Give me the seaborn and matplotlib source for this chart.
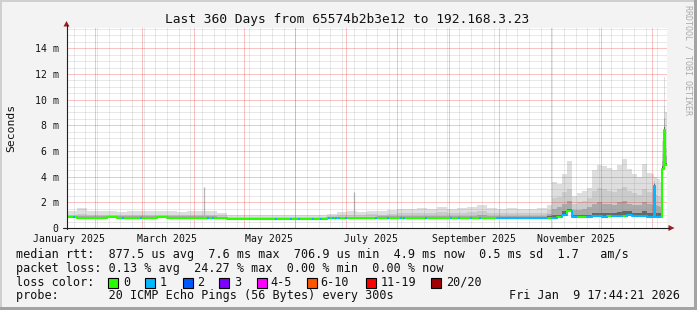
import numpy as np
import pandas as pd
import matplotlib
matplotlib.use("Agg")
import matplotlib.pyplot as plt
import matplotlib.dates as mdates
from matplotlib.patches import Rectangle, Polygon
import seaborn as sns

# ---------------- data ----------------
TITLE = "Last 360 Days from 65574b2b3e12 to 192.168.3.23"
END_TIME = "2026-01-09 17:44:21"
SPAN_DAYS = 360

# bin start, in days from the start of the 360 day window
bin_start_days = [0, 6, 12, 18, 24, 30, 36, 42, 48, 54, 60, 66, 72, 78, 84, 90,
                  96, 102, 108, 114, 120, 126, 132, 138, 144, 150,
                  156, 162, 168, 174, 180, 186, 192, 198, 204, 210, 216, 222, 228, 234,
                  240, 246, 252, 258, 264, 270, 276, 282,
                  288, 291, 294, 297, 300, 303, 306, 309, 312, 315, 318, 321, 324, 327,
                  330, 333, 336, 339, 342, 345, 348,
                  351, 352, 353, 354, 355, 356, 357, 358, 359]

# median rtt (ms)
median_ms = [0.82, 0.81, 0.80, 0.81, 0.82, 0.80, 0.81, 0.80, 0.81, 0.82, 0.80, 0.80, 0.81, 0.80, 0.80, 0.78,
             0.72, 0.71, 0.72, 0.72, 0.71, 0.70, 0.71, 0.71, 0.70, 0.71,
             0.76, 0.78, 0.78, 0.77, 0.77, 0.78, 0.77, 0.77, 0.78, 0.77, 0.77, 0.78, 0.77, 0.77,
             0.76, 0.77, 0.78, 0.77, 0.77, 0.76, 0.77, 0.77,
             0.78, 0.80, 0.85, 1.05, 1.30, 0.85, 0.82, 0.82, 0.84, 0.90, 0.90, 0.88, 0.90, 0.92,
             0.93, 0.94, 0.98, 0.92, 0.90, 0.90, 0.88,
             0.88, 3.30, 0.86, 0.85, 0.85, 0.88, 4.60, 7.60, 4.90]

# loss class per bin (index into loss colours)
loss_class = [0, 0, 0, 0, 0, 0, 0, 0, 0, 0, 0, 0, 0, 0, 0, 0,
              0, 0, 0, 0, 0, 0, 0, 0, 0, 0,
              0, 0, 0, 0, 0, 0, 0, 0, 0, 0, 0, 0, 0, 0,
              0, 0, 0, 1, 1, 1, 1, 1,
              0, 1, 0, 1, 0, 1, 0, 0, 1, 1, 1, 1, 0, 1,
              1, 0, 1, 1, 1, 1, 1,
              1, 1, 1, 1, 1, 0, 0, 0, 0]

# smoke: max ping, and upper edges of progressively darker bands (ms)
smoke_top = [1.35, 1.55, 1.30, 1.35, 1.30, 1.25, 1.35, 1.30, 1.30, 1.35, 1.30, 1.25, 1.35, 1.35, 1.30, 1.20,
             1.05, 1.05, 1.00, 1.05, 1.00, 1.00, 1.05, 1.00, 1.00, 1.05,
             1.10, 1.25, 1.30, 1.25, 1.35, 1.30, 1.40, 1.45, 1.50, 1.55, 1.50, 1.60, 1.50, 1.55,
             1.60, 1.80, 1.55, 1.50, 1.55, 1.50, 1.50, 1.55,
             1.80, 3.60, 3.40, 4.20, 5.20, 2.50, 2.70, 2.90, 3.10, 4.50, 4.90, 4.80, 4.70, 4.50,
             4.90, 5.40, 4.60, 4.20, 4.00, 5.00, 4.30,
             4.20, 4.00, 4.00, 3.80, 3.80, 3.60, 6.80, 11.80, 9.00]
smoke_upper = [1.05, 1.10, 1.05, 1.05, 1.05, 1.00, 1.05, 1.05, 1.05, 1.05, 1.05, 1.00, 1.05, 1.05, 1.05, 1.00,
               0.88, 0.88, 0.86, 0.88, 0.86, 0.86, 0.88, 0.86, 0.86, 0.88,
               0.92, 1.00, 1.05, 1.02, 1.08, 1.05, 1.10, 1.15, 1.18, 1.20, 1.18, 1.22, 1.18, 1.20,
               1.25, 1.30, 1.20, 1.18, 1.20, 1.18, 1.18, 1.20,
               1.40, 2.30, 2.40, 2.80, 3.00, 1.90, 2.00, 2.10, 2.30, 2.90, 3.10, 3.00, 2.90, 2.80,
               3.00, 3.20, 2.90, 2.70, 2.60, 3.00, 2.80,
               2.70, 3.70, 2.60, 2.50, 2.50, 2.40, 5.80, 9.50, 6.20]
smoke_inner = [0.92, 0.91, 0.90, 0.91, 0.92, 0.90, 0.91, 0.90, 0.91, 0.92, 0.90, 0.90, 0.91, 0.90, 0.90, 0.88,
               0.80, 0.79, 0.80, 0.80, 0.79, 0.78, 0.79, 0.79, 0.78, 0.79,
               0.84, 0.87, 0.88, 0.87, 0.88, 0.90, 0.90, 0.92, 0.94, 0.95, 0.94, 0.96, 0.94, 0.95,
               0.97, 1.00, 0.95, 0.94, 0.95, 0.94, 0.94, 0.95,
               1.10, 1.50, 1.60, 1.90, 2.10, 1.40, 1.40, 1.50, 1.60, 1.90, 2.00, 1.90, 1.90, 1.80,
               2.00, 2.10, 1.90, 1.80, 1.80, 2.00, 1.90,
               1.80, 3.50, 1.80, 1.70, 1.70, 1.60, 5.20, 8.60, 5.60]
smoke_core = [0.86, 0.85, 0.84, 0.85, 0.86, 0.84, 0.85, 0.84, 0.85, 0.86, 0.84, 0.84, 0.85, 0.84, 0.84, 0.82,
              0.76, 0.75, 0.76, 0.76, 0.75, 0.74, 0.75, 0.75, 0.74, 0.75,
              0.80, 0.82, 0.82, 0.81, 0.81, 0.82, 0.81, 0.81, 0.82, 0.81, 0.81, 0.82, 0.81, 0.81,
              0.80, 0.82, 0.82, 0.81, 0.81, 0.80, 0.81, 0.81,
              0.90, 1.05, 1.05, 1.30, 1.50, 1.00, 1.00, 1.00, 1.05, 1.20, 1.20, 1.20, 1.20, 1.20,
              1.25, 1.30, 1.30, 1.20, 1.20, 1.30, 1.20,
              1.20, 3.40, 1.20, 1.15, 1.15, 1.15, 4.80, 7.90, 5.10]

# isolated single-loss samples (day offsets) and isolated outlier pings
loss1_event_days = [4, 33, 44, 84, 87, 125, 134, 139, 147, 152, 157, 159, 161, 163, 167,
                    185, 192, 200, 202, 215, 230, 235, 242, 247]
spike_days = [82.6, 172.5]
spike_ms = [3.2, 2.8]

loss_labels = ["0", "1", "2", "3", "4-5", "6-10", "11-19", "20/20"]
loss_colors = ["#26ff00", "#00b8ff", "#0059ff", "#7e00ff", "#ff00ff", "#ff5500", "#ff0000", "#a10000"]

x_tick_dates = ["2025-01-16", "2025-03-16", "2025-05-16", "2025-07-16", "2025-09-16", "2025-11-16"]
x_tick_labels = ["January 2025", "March 2025", "May 2025", "July 2025", "September 2025", "November 2025"]
y_ticks = [0, 2, 4, 6, 8, 10, 12, 14]
y_tick_labels = ["0", "2 m", "4 m", "6 m", "8 m", "10 m", "12 m", "14 m"]

legend_rows = [
    "median rtt:  877.5 us avg  7.6 ms max  706.9 us min  4.9 ms now  0.5 ms sd  1.7   am/s",
    "packet loss: 0.13 % avg  24.27 % max  0.00 % min  0.00 % now",
]
probe_text = "probe:       20 ICMP Echo Pings (56 Bytes) every 300s"
stamp_text = "Fri Jan  9 17:44:21 2026"

# ---------------- style ----------------
sns.set_theme(style="white")
plt.rcParams["font.family"] = ["DejaVu Sans Mono", "DejaVu Sans"]
MONO = "DejaVu Sans Mono"

W, H = 697, 310
L, R, T, B = 66.5, 667.0, 28.0, 228.0
YMAX = 15.58

fig = plt.figure(figsize=(W / 100, H / 100), dpi=100, facecolor="#f3f3f3")
ax = fig.add_axes([L / W, 1 - B / H, (R - L) / W, (B - T) / H])
ax.set_facecolor("white")
for s in ax.spines.values():
    s.set_visible(False)

t_end = pd.Timestamp(END_TIME)
t0 = t_end - pd.Timedelta(days=SPAN_DAYS)
x0 = mdates.date2num(t0.to_pydatetime())
edges = x0 + np.array(bin_start_days + [SPAN_DAYS], dtype=float)

def ext(a):
    a = list(a)
    return np.array(a + [a[-1]])

med = ext(median_ms)
layers = [(smoke_top, "#dedede"), (smoke_upper, "#cbcbcb"),
          (smoke_inner, "#a9a9a9"), (smoke_core, "#666666")]
for vals, col in layers:
    ax.fill_between(edges, med, ext(vals), step="post", color=col, lw=0, zorder=1)

# isolated outlier pings
for d, v in zip(spike_days, spike_ms):
    i = int(np.searchsorted(bin_start_days, d, side="right") - 1)
    ax.vlines(x0 + d, median_ms[i], v, color="#b4b4b4", lw=0.9, zorder=1)

# grid (1px lines, pale to mimic rrdtool dotted grid)
minor_c = (0.55, 0.55, 0.55, 0.20)
major_c = (0.92, 0.10, 0.10, 0.26)
gkw = dict(lw=0.72, ls="-", zorder=2, antialiased=False)
for v in np.arange(0.5, 15.51, 0.5):
    if abs(v % 2) < 1e-9:
        continue
    ax.axhline(v, color=minor_c, **gkw)
for d in pd.date_range("2025-01-19", "2026-01-09", freq="7D"):
    ax.axvline(mdates.date2num(d.to_pydatetime()), color=minor_c, **gkw)
for v in range(2, 15, 2):
    ax.axhline(v, color=major_c, **gkw)
month_lines = [mdates.date2num(d.to_pydatetime()) for d in pd.date_range("2025-02-01", "2026-01-01", freq="MS")]
for m in month_lines:
    ax.axvline(m, color=major_c, **gkw)

# median line coloured by loss, drawn with seaborn
rows = []
for i in range(len(median_ms)):
    key = loss_labels[loss_class[i]]
    if i > 0:
        rows.append((edges[i], median_ms[i - 1], i, key))
    rows.append((edges[i], median_ms[i], i, key))
    rows.append((edges[i + 1], median_ms[i], i, key))
df = pd.DataFrame(rows, columns=["x", "ms", "seg", "loss"])
sns.lineplot(data=df, x="x", y="ms", units="seg", estimator=None, hue="loss",
             palette=dict(zip(loss_labels, loss_colors)), sort=False, legend=False,
             lw=1.5, ax=ax, zorder=3)
for d in loss1_event_days:
    i = int(np.searchsorted(bin_start_days, d, side="right") - 1)
    ax.hlines(median_ms[i], x0 + d, x0 + d + 1.2, color=loss_colors[1], lw=1.5, zorder=3)

ax.set_xlim(edges[0], edges[-1])
ax.set_ylim(0, YMAX)
ax.set_xlabel("")
ax.set_ylabel("")
ax.set_xticks([mdates.date2num(pd.Timestamp(d).to_pydatetime()) for d in x_tick_dates])
ax.set_xticklabels(x_tick_labels, fontsize=7.1, family=MONO, color="#111111")
ax.set_xticks(month_lines, minor=True)
ax.set_yticks(y_ticks)
ax.set_yticklabels(y_tick_labels, fontsize=7.1, family=MONO, color="#111111")
ax.tick_params(axis="x", which="major", length=0, pad=4.0)
ax.tick_params(axis="x", which="minor", length=2.0, direction="out", color="#e88080", width=0.7)
ax.tick_params(axis="y", which="major", length=2.8, direction="inout", pad=4.3, color="#333333", width=0.7)

# ---------------- overlay in pixel coordinates ----------------
ov = fig.add_axes([0, 0, 1, 1], zorder=10)
ov.set_xlim(0, W)
ov.set_ylim(H, 0)
ov.axis("off")
ov.patch.set_alpha(0)

# frame shading
ov.add_patch(Rectangle((0, 0), W, 2, color="#cfcfcf", lw=0))
ov.add_patch(Rectangle((0, 0), 2, H, color="#cfcfcf", lw=0))
ov.add_patch(Rectangle((0, H - 3), W, 3, color="#a3a3a3", lw=0))
ov.add_patch(Rectangle((W - 3, 0), 3, H, color="#a3a3a3", lw=0))

# axes with arrows
ov.plot([L, L], [B + 0.5, 25], color="#202020", lw=0.8)
ov.plot([63, 669], [B, B], color="#202020", lw=0.8)
ov.add_patch(Polygon([[L - 3, 26.5], [L + 3, 26.5], [L, 21]], closed=True, color="#9c1e1e", lw=0))
ov.add_patch(Polygon([[668.5, B - 3], [668.5, B + 3], [674.5, B]], closed=True, color="#9c1e1e", lw=0))

ov.text(347.5, 23.5, TITLE, ha="center", va="baseline", fontsize=9.3, family=MONO, color="#111111")
ov.text(11, 128, "Seconds", rotation=90, ha="center", va="center", fontsize=8.2, family=MONO, color="#111111")
ov.text(688, 5, "RRDTOOL / TOBI OETIKER", rotation=270, ha="center", va="top",
        fontsize=6.0, family=MONO, color="#ababab")

base = [258.3, 272.0, 285.8, 299.4]
for txt, y in zip(legend_rows, base[:2]):
    ov.text(16, y, txt, ha="left", va="baseline", fontsize=8.5, family=MONO, color="#111111")
ov.text(16, base[2], "loss color:", ha="left", va="baseline", fontsize=8.5, family=MONO, color="#111111")
box_x = [108, 145, 183, 219, 257, 307, 366, 431]
lab_x = [123, 160, 197, 234, 270, 320, 381, 446]
for bx, lx, lab, col in zip(box_x, lab_x, loss_labels, loss_colors):
    ov.add_patch(Rectangle((bx, 277.5), 10, 10, facecolor=col, edgecolor="black", lw=0.8))
    ov.text(lx, base[2], lab, ha="left", va="baseline", fontsize=8.5, family=MONO, color="#111111")
ov.text(16, base[3], probe_text, ha="left", va="baseline", fontsize=8.5, family=MONO, color="#111111")
ov.text(680, base[3], stamp_text, ha="right", va="baseline", fontsize=8.5, family=MONO, color="#111111")

fig.savefig("out.png", dpi=100, facecolor=fig.get_facecolor())
